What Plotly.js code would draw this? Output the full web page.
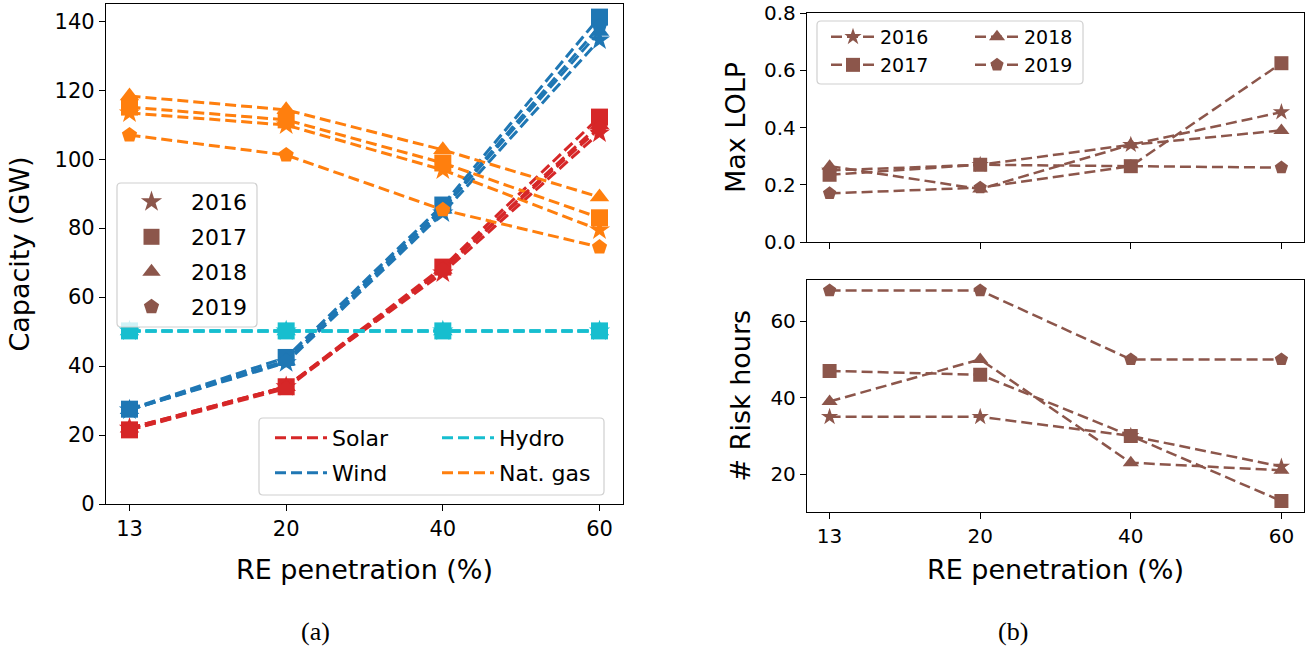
<!DOCTYPE html>
<html>
<head>
<meta charset="utf-8">
<script src="https://cdn.plot.ly/plotly-3.0.1.min.js"></script>
<style>html,body{margin:0;padding:0;background:#fff;}#chart{width:1310px;height:648px;}</style>
</head>
<body>
<div id="chart"></div>
<script>
// ---------- data ----------
const penetration = ['13', '20', '40', '60'];
const years = ['2016', '2017', '2018', '2019'];

// (a) capacity in GW, per year
const solar2016 = [22, 34, 67, 107.6];
const solar2017 = [21.5, 34, 68.7, 112.2];
const solar2018 = [22, 34, 68, 110];
const solar2019 = [21.5, 33.5, 68, 109];

const wind2016 = [27.3, 41, 84.4, 134.6];
const wind2017 = [27.5, 42.5, 86.7, 141.2];
const wind2018 = [27.3, 41.5, 85.5, 137];
const wind2019 = [27.3, 41.5, 85.8, 138.5];

const hydro2016 = [50.2, 50.2, 50.2, 50.2];
const hydro2017 = [50.2, 50.2, 50.2, 50.2];
const hydro2018 = [50.2, 50.2, 50.2, 50.2];
const hydro2019 = [50.2, 50.2, 50.2, 50.2];

const gas2016 = [113.4, 109.9, 96.9, 79.5];
const gas2017 = [115.1, 111.4, 98.9, 83];
const gas2018 = [118.3, 114.3, 102.7, 89];
const gas2019 = [107, 101.2, 85.3, 74.5];

// (b) max LOLP, per year
const lolp2016 = [0.25, 0.27, 0.34, 0.454];
const lolp2017 = [0.235, 0.27, 0.265, 0.625];
const lolp2018 = [0.265, 0.185, 0.34, 0.39];
const lolp2019 = [0.17, 0.19, 0.265, 0.26];

// (b) number of risk hours, per year
const risk2016 = [35, 35, 30, 22];
const risk2017 = [47, 46, 30, 13];
const risk2018 = [39, 50, 23, 21];
const risk2019 = [68, 68, 50, 50];

const techNames = ['Solar', 'Wind', 'Hydro', 'Nat. gas'];

// ---------- styling ----------
const W = 1310, H = 648;
const px = v => v / W;
const py = v => 1 - v / H;
const FONT = 'DejaVu Sans, sans-serif';
const techColors = ['#d62728', '#1f77b4', '#17becf', '#ff7f0e'];
const brown = '#8c564b';
const symbols = ['star', 'square', 'triangle-up', 'pentagon'];
const symSizeA = {'star': 16, 'square': 17, 'triangle-up': 17, 'pentagon': 16};
const symSizeB = {'star': 13, 'square': 14, 'triangle-up': 14, 'pentagon': 14};

const techData = [
  [solar2016, solar2017, solar2018, solar2019],
  [wind2016, wind2017, wind2018, wind2019],
  [hydro2016, hydro2017, hydro2018, hydro2019],
  [gas2016, gas2017, gas2018, gas2019]
];
const lolpData = [lolp2016, lolp2017, lolp2018, lolp2019];
const riskData = [risk2016, risk2017, risk2018, risk2019];

const traces = [];
function capTrace(ti, yi) {
  return {
    type: 'scatter', mode: 'lines+markers',
    x: penetration, y: techData[ti][yi],
    xaxis: 'x', yaxis: 'y',
    name: techNames[ti] + ' ' + years[yi],
    showlegend: false,
    line: {color: techColors[ti], width: 3, dash: '11px,5px'},
    marker: {symbol: symbols[yi], size: symSizeA[symbols[yi]], color: techColors[ti]},
    hoverinfo: 'x+y+name'
  };
}
// panel (a) lines
for (let yi = 0; yi < years.length; yi++) {
  [0, 1, 3].forEach(ti => traces.push(capTrace(ti, yi)));
}
[0, 2, 3, 1].forEach(yi => traces.push(capTrace(2, yi)));

// panel (a) legend: technologies (two columns -> legend2, legend3)
for (let ti = 0; ti < techNames.length; ti++) {
  traces.push({
    type: 'scatter', mode: 'lines',
    x: [null], y: [null], xaxis: 'x', yaxis: 'y',
    name: techNames[ti],
    legend: ti < 2 ? 'legend2' : 'legend3',
    legendgroup: 'tech' + ti,
    line: {color: techColors[ti], width: 3, dash: '11px,5px'},
    hoverinfo: 'skip'
  });
}
// panel (a) legend: years (markers only)
for (let yi = 0; yi < years.length; yi++) {
  traces.push({
    type: 'scatter', mode: 'markers',
    x: [null], y: [null], xaxis: 'x', yaxis: 'y',
    name: years[yi],
    legend: 'legend',
    legendgroup: 'ya' + yi,
    marker: {symbol: symbols[yi], size: 16, color: brown},
    hoverinfo: 'skip'
  });
}
// panel (b)
for (let yi = 0; yi < years.length; yi++) {
  traces.push({
    type: 'scatter', mode: 'lines+markers',
    x: penetration, y: lolpData[yi],
    xaxis: 'x2', yaxis: 'y2',
    name: years[yi],
    legend: yi < 2 ? 'legend4' : 'legend5',
    legendgroup: 'yb' + yi,
    line: {color: brown, width: 2.5, dash: '11px,5px'},
    marker: {symbol: symbols[yi], size: symSizeB[symbols[yi]], color: brown}
  });
}
for (let yi = 0; yi < years.length; yi++) {
  traces.push({
    type: 'scatter', mode: 'lines+markers',
    x: penetration, y: riskData[yi],
    xaxis: 'x3', yaxis: 'y3',
    name: years[yi],
    showlegend: false,
    legendgroup: 'yb' + yi,
    line: {color: brown, width: 2.5, dash: '11px,5px'},
    marker: {symbol: symbols[yi], size: symSizeB[symbols[yi]], color: brown}
  });
}

function roundRect(x0, y0, x1, y1, r) {
  // pixel coords -> paper path with rounded corners
  const X = v => px(v).toFixed(5), Y = v => py(v).toFixed(5);
  return 'M' + X(x0 + r) + ',' + Y(y0) +
    ' L' + X(x1 - r) + ',' + Y(y0) + ' Q' + X(x1) + ',' + Y(y0) + ' ' + X(x1) + ',' + Y(y0 + r) +
    ' L' + X(x1) + ',' + Y(y1 - r) + ' Q' + X(x1) + ',' + Y(y1) + ' ' + X(x1 - r) + ',' + Y(y1) +
    ' L' + X(x0 + r) + ',' + Y(y1) + ' Q' + X(x0) + ',' + Y(y1) + ' ' + X(x0) + ',' + Y(y1 - r) +
    ' L' + X(x0) + ',' + Y(y0 + r) + ' Q' + X(x0) + ',' + Y(y0) + ' ' + X(x0 + r) + ',' + Y(y0) + ' Z';
}
const boxStyle = {type: 'path', xref: 'paper', yref: 'paper', layer: 'above',
  fillcolor: 'rgba(255,255,255,0.8)', line: {color: '#d0d0d0', width: 1.2}};

const axisCommon = {
  showline: true, mirror: true, linecolor: '#000', linewidth: 1.3,
  ticks: 'outside', ticklen: 6, tickwidth: 1.3, tickcolor: '#000',
  showgrid: false, zeroline: false, automargin: false,
  ticklabeloverflow: 'allow',
  tickfont: {family: FONT, size: 21, color: '#000'}
};
const rightTickFont = {family: FONT, size: 20, color: '#000'};
const legendCommon = {
  bgcolor: 'rgba(0,0,0,0)', borderwidth: 0, xanchor: 'left', yanchor: 'top',
  orientation: 'v', traceorder: 'grouped', tracegroupgap: 3.4,
  font: {family: FONT, size: 22, color: '#000'}
};
const titleFont = {family: FONT, size: 27, color: '#000'};

const layout = {
  width: W, height: H,
  margin: {l: 0, r: 0, t: 0, b: 0},
  paper_bgcolor: '#fff', plot_bgcolor: '#fff',
  font: {family: FONT, color: '#000'},
  xaxis: Object.assign({}, axisCommon, {
    domain: [px(106), px(623)], anchor: 'y', type: 'category',
    range: [-0.15, 3.15],
    title: {text: 'RE penetration (%)', font: titleFont, standoff: 19}
  }),
  yaxis: Object.assign({}, axisCommon, {
    domain: [py(504), py(4)], anchor: 'x', range: [0, 145],
    tickvals: [0, 20, 40, 60, 80, 100, 120, 140],
    title: {text: 'Capacity (GW)', font: titleFont, standoff: 17}
  }),
  xaxis2: Object.assign({}, axisCommon, {
    domain: [px(807), px(1304)], anchor: 'y2', type: 'category',
    range: [-0.15, 3.15], showticklabels: false
  }),
  yaxis2: Object.assign({}, axisCommon, {
    domain: [py(242), py(13)], anchor: 'x2', range: [0, 0.8005],
    tickvals: [0, 0.2, 0.4, 0.6, 0.8], ticktext: ['0.0', '0.2', '0.4', '0.6', '0.8'],
    tickfont: rightTickFont,
    title: {text: 'Max LOLP', font: titleFont, standoff: 10}
  }),
  xaxis3: Object.assign({}, axisCommon, {
    domain: [px(807), px(1304)], anchor: 'y3', type: 'category',
    range: [-0.15, 3.15], tickfont: rightTickFont,
    title: {text: 'RE penetration (%)', font: titleFont, standoff: 13}
  }),
  yaxis3: Object.assign({}, axisCommon, {
    domain: [py(511.5), py(280)], anchor: 'x3', range: [10.25, 70.75],
    tickvals: [20, 40, 60], tickfont: rightTickFont,
    title: {text: '# Risk hours', font: titleFont, standoff: 11}
  }),
  legend: Object.assign({}, legendCommon, {x: px(112), y: py(181), itemwidth: 69}),
  legend2: Object.assign({}, legendCommon, {x: px(270), y: py(417), itemwidth: 52}),
  legend3: Object.assign({}, legendCommon, {x: px(437), y: py(417), itemwidth: 52}),
  legend4: Object.assign({}, legendCommon, {x: px(826), y: py(18), itemwidth: 44, tracegroupgap: 0.3,
    font: {family: FONT, size: 19, color: '#000'}}),
  legend5: Object.assign({}, legendCommon, {x: px(970), y: py(18), itemwidth: 44, tracegroupgap: 0.3,
    font: {family: FONT, size: 19, color: '#000'}}),
  shapes: [
    Object.assign({}, boxStyle, {path: roundRect(117, 183, 257, 327, 4)}),
    Object.assign({}, boxStyle, {path: roundRect(259, 418, 604, 495, 4)}),
    Object.assign({}, boxStyle, {path: roundRect(817, 21, 1083, 84, 4)})
  ],
  annotations: [
    {text: '(a)', xref: 'paper', yref: 'paper', x: px(315), y: py(631), xanchor: 'center', yanchor: 'middle',
     showarrow: false, font: {family: 'Liberation Serif, DejaVu Serif, serif', size: 26, color: '#000'}},
    {text: '(b)', xref: 'paper', yref: 'paper', x: px(1013), y: py(631), xanchor: 'center', yanchor: 'middle',
     showarrow: false, font: {family: 'Liberation Serif, DejaVu Serif, serif', size: 26, color: '#000'}}
  ]
};

Plotly.newPlot('chart', traces, layout, {displayModeBar: false});
</script>
</body>
</html>
